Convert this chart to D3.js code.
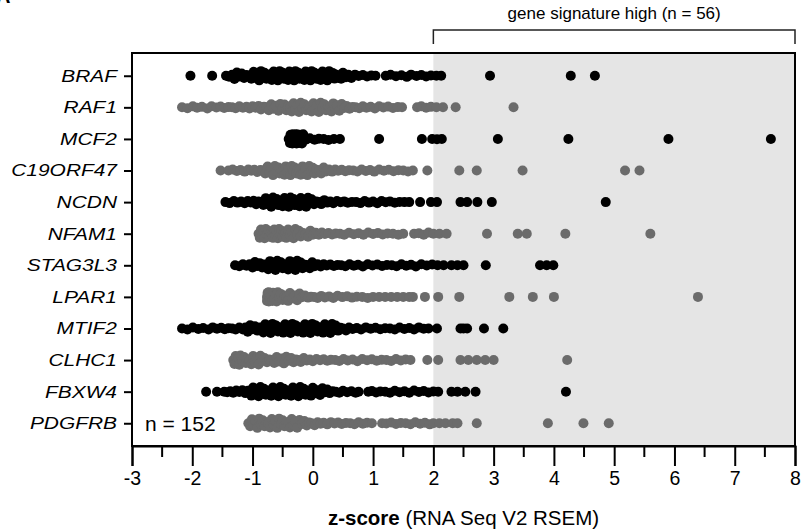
<!DOCTYPE html>
<html>
<head>
<meta charset="utf-8">
<script src="https://cdn.jsdelivr.net/npm/d3@7"></script>
<style>
  body { margin: 0; background: #fff; }
  text { font-family: "Liberation Sans", Arial, sans-serif; }
</style>
</head>
<body>
<div id="plot"></div>
<script>
// genes, top to bottom
var genes = ["BRAF", "RAF1", "MCF2", "C19ORF47", "NCDN", "NFAM1", "STAG3L3", "LPAR1", "MTIF2", "CLHC1", "FBXW4", "PDGFRB"];

// z-scores, one array per gene
var braf = [-2.03,-1.67,-1.44,-1.39,-1.34,-1.3,-1.26,-1.22,-1.18,-1.14,-1.1,-1.06,-1.02,-0.98,-0.95,-0.92,-0.89,-0.86,-0.83,-0.8,-0.77,-0.74,-0.71,-0.68,-0.65,-0.63,-0.6,-0.58,-0.55,-0.53,-0.5,-0.48,-0.46,-0.43,-0.41,-0.39,-0.36,-0.34,-0.31,-0.29,-0.27,-0.24,-0.22,-0.19,-0.17,-0.14,-0.12,-0.09,-0.07,-0.04,-0.02,0.01,0.03,0.06,0.08,0.11,0.13,0.16,0.19,0.21,0.24,0.27,0.3,0.33,0.36,0.39,0.43,0.47,0.5,0.55,0.59,0.64,0.7,0.76,0.83,0.9,0.97,1.04,1.21,1.29,1.38,1.47,1.56,1.63,1.72,1.8,1.88,1.96,2.05,2.13,2.94,4.28,4.68];
var raf1 = [-2.17,-2.08,-1.99,-1.92,-1.84,-1.75,-1.68,-1.6,-1.53,-1.47,-1.4,-1.34,-1.28,-1.22,-1.16,-1.1,-1.05,-1.0,-0.95,-0.9,-0.86,-0.81,-0.77,-0.73,-0.69,-0.65,-0.61,-0.57,-0.54,-0.5,-0.47,-0.44,-0.41,-0.38,-0.35,-0.32,-0.29,-0.26,-0.23,-0.2,-0.17,-0.14,-0.11,-0.08,-0.05,-0.02,0.01,0.04,0.07,0.1,0.13,0.16,0.19,0.22,0.25,0.28,0.31,0.34,0.37,0.4,0.44,0.48,0.52,0.56,0.61,0.66,0.71,0.77,0.83,0.89,0.96,1.03,1.1,1.17,1.25,1.33,1.41,1.48,1.73,1.8,1.88,1.96,2.05,2.16,2.37,3.33];
var mcf2 = [-0.4,-0.38,-0.37,-0.36,-0.35,-0.34,-0.33,-0.32,-0.31,-0.3,-0.3,-0.29,-0.29,-0.28,-0.28,-0.27,-0.27,-0.27,-0.26,-0.26,-0.25,-0.25,-0.24,-0.23,-0.22,-0.21,-0.2,-0.18,-0.16,-0.12,-0.05,0.03,0.1,0.18,0.26,0.35,0.45,1.1,1.81,1.98,2.06,2.14,3.07,4.24,5.9,7.6];
var c19orf47 = [-1.53,-1.4,-1.33,-1.26,-1.2,-1.13,-1.07,-1.02,-0.97,-0.92,-0.87,-0.83,-0.79,-0.75,-0.72,-0.69,-0.66,-0.63,-0.6,-0.57,-0.55,-0.52,-0.5,-0.47,-0.45,-0.42,-0.4,-0.37,-0.35,-0.32,-0.3,-0.27,-0.25,-0.22,-0.2,-0.17,-0.15,-0.12,-0.09,-0.06,-0.03,0.0,0.03,0.06,0.1,0.14,0.18,0.22,0.27,0.32,0.37,0.42,0.48,0.54,0.6,0.67,0.74,0.81,0.88,0.95,1.02,1.1,1.18,1.26,1.34,1.42,1.5,1.58,1.66,1.9,2.43,2.72,3.48,5.18,5.42];
var ncdn = [-1.45,-1.38,-1.31,-1.25,-1.19,-1.13,-1.08,-1.03,-0.98,-0.94,-0.9,-0.86,-0.82,-0.78,-0.75,-0.72,-0.69,-0.66,-0.63,-0.6,-0.57,-0.55,-0.52,-0.5,-0.47,-0.45,-0.42,-0.4,-0.37,-0.35,-0.32,-0.3,-0.27,-0.25,-0.22,-0.2,-0.17,-0.14,-0.11,-0.08,-0.05,-0.02,0.02,0.06,0.1,0.14,0.19,0.24,0.29,0.34,0.4,0.46,0.52,0.58,0.65,0.72,0.79,0.86,0.93,1.0,1.07,1.14,1.21,1.28,1.36,1.44,1.52,1.6,1.78,1.96,2.06,2.45,2.56,2.73,2.97,4.86];
var nfam1 = [-0.9,-0.88,-0.86,-0.84,-0.82,-0.8,-0.78,-0.76,-0.74,-0.72,-0.7,-0.68,-0.66,-0.64,-0.62,-0.6,-0.58,-0.56,-0.54,-0.52,-0.5,-0.48,-0.46,-0.44,-0.41,-0.38,-0.35,-0.32,-0.29,-0.26,-0.23,-0.2,-0.16,-0.12,-0.08,-0.04,0.0,0.05,0.1,0.15,0.2,0.26,0.32,0.38,0.45,0.52,0.6,0.68,0.76,0.84,0.92,1.0,1.08,1.16,1.24,1.33,1.42,1.5,1.68,1.76,1.84,1.92,2.0,2.1,2.22,2.89,3.4,3.55,4.19,5.6];
var stag3l3 = [-1.29,-1.22,-1.16,-1.1,-1.05,-1.0,-0.96,-0.92,-0.88,-0.84,-0.8,-0.77,-0.74,-0.71,-0.68,-0.65,-0.62,-0.59,-0.56,-0.53,-0.5,-0.47,-0.44,-0.41,-0.38,-0.35,-0.32,-0.29,-0.26,-0.23,-0.2,-0.17,-0.13,-0.09,-0.05,-0.01,0.03,0.08,0.13,0.18,0.23,0.29,0.35,0.41,0.47,0.54,0.61,0.68,0.75,0.83,0.91,0.99,1.07,1.15,1.23,1.31,1.39,1.47,1.55,1.63,1.71,1.8,1.89,1.98,2.07,2.17,2.3,2.4,2.5,2.87,3.77,3.88,3.99];
var lpar1 = [-0.76,-0.76,-0.75,-0.75,-0.74,-0.73,-0.73,-0.72,-0.71,-0.7,-0.69,-0.68,-0.67,-0.66,-0.64,-0.62,-0.6,-0.58,-0.56,-0.53,-0.5,-0.47,-0.44,-0.41,-0.38,-0.34,-0.3,-0.26,-0.22,-0.18,-0.13,-0.08,-0.03,0.02,0.08,0.14,0.2,0.27,0.34,0.41,0.49,0.57,0.65,0.73,0.82,0.91,1.0,1.1,1.2,1.3,1.4,1.5,1.6,1.66,1.86,2.08,2.43,3.26,3.65,4.0,6.39];
var mtif2 = [-2.17,-2.08,-1.99,-1.9,-1.82,-1.73,-1.66,-1.59,-1.52,-1.46,-1.4,-1.34,-1.28,-1.22,-1.16,-1.12,-1.08,-1.04,-1.0,-0.96,-0.92,-0.88,-0.85,-0.82,-0.79,-0.76,-0.73,-0.7,-0.67,-0.64,-0.61,-0.58,-0.55,-0.52,-0.49,-0.46,-0.43,-0.4,-0.37,-0.34,-0.31,-0.28,-0.25,-0.22,-0.19,-0.16,-0.13,-0.1,-0.07,-0.04,-0.01,0.02,0.05,0.08,0.11,0.14,0.17,0.2,0.23,0.26,0.29,0.32,0.35,0.38,0.42,0.46,0.5,0.55,0.6,0.66,0.73,0.8,0.88,0.96,1.04,1.12,1.2,1.28,1.36,1.44,1.52,1.6,1.68,1.76,1.84,1.92,2.06,2.45,2.5,2.56,2.84,3.16];
var clhc1 = [-1.32,-1.3,-1.28,-1.26,-1.24,-1.22,-1.2,-1.17,-1.14,-1.11,-1.08,-1.05,-1.02,-0.99,-0.96,-0.93,-0.9,-0.87,-0.84,-0.8,-0.76,-0.72,-0.68,-0.64,-0.6,-0.56,-0.52,-0.48,-0.44,-0.4,-0.36,-0.32,-0.28,-0.24,-0.2,-0.15,-0.1,-0.05,0.0,0.06,0.12,0.18,0.24,0.3,0.37,0.44,0.51,0.58,0.66,0.74,0.82,0.9,0.98,1.06,1.14,1.22,1.3,1.38,1.46,1.54,1.62,1.9,2.08,2.45,2.58,2.72,2.86,3.0,4.22];
var fbxw4 = [-1.77,-1.59,-1.47,-1.42,-1.37,-1.32,-1.27,-1.22,-1.17,-1.12,-1.08,-1.05,-1.02,-0.99,-0.96,-0.93,-0.9,-0.87,-0.84,-0.81,-0.78,-0.75,-0.72,-0.69,-0.66,-0.63,-0.6,-0.57,-0.54,-0.51,-0.48,-0.45,-0.42,-0.39,-0.36,-0.33,-0.3,-0.27,-0.24,-0.21,-0.18,-0.15,-0.12,-0.09,-0.06,-0.03,0.0,0.04,0.08,0.12,0.16,0.2,0.24,0.28,0.33,0.38,0.44,0.5,0.57,0.64,0.71,0.76,0.92,0.98,1.05,1.12,1.2,1.28,1.36,1.44,1.52,1.6,1.68,1.76,1.84,1.92,2.0,2.08,2.3,2.4,2.53,2.7,4.2];
var pdgfrb = [-1.07,-1.04,-1.01,-0.98,-0.95,-0.92,-0.89,-0.86,-0.83,-0.8,-0.77,-0.74,-0.71,-0.68,-0.65,-0.62,-0.59,-0.56,-0.53,-0.5,-0.47,-0.44,-0.41,-0.38,-0.35,-0.32,-0.29,-0.26,-0.22,-0.18,-0.14,-0.1,-0.06,-0.02,0.03,0.08,0.13,0.18,0.24,0.3,0.36,0.42,0.48,0.55,0.62,0.69,0.76,0.83,0.9,0.98,1.15,1.22,1.3,1.38,1.46,1.54,1.62,1.7,1.78,1.86,1.94,2.0,2.1,2.2,2.32,2.4,2.72,3.9,4.49,4.91];

var geneValues = [braf, raf1, mcf2, c19orf47, ncdn, nfam1, stag3l3, lpar1, mtif2, clhc1, fbxw4, pdgfrb];
var xTicks = [-3, -2, -1, 0, 1, 2, 3, 4, 5, 6, 7, 8];
var highCut = 2;

// workspace
var svgWidth = 801, svgHeight = 531;
var margin = { top: 53, right: 6, bottom: 85, left: 132 };
var width = svgWidth - margin.left - margin.right;
var height = svgHeight - margin.top - margin.bottom;

var svg = d3.select("#plot").append("svg")
    .attr("width", svgWidth)
    .attr("height", svgHeight);

var chartGroup = svg.append("g")
    .attr("transform", `translate(${margin.left}, ${margin.top})`);

// scales
var xScale = d3.scaleLinear().domain([-3, 8]).range([0, width]);
var yScale = d3.scalePoint().domain(genes).range([0, height]).padding(0.72);

// grey "high" region
chartGroup.append("rect")
    .attr("x", xScale(highCut))
    .attr("y", 0)
    .attr("width", xScale(8) - xScale(highCut))
    .attr("height", height)
    .attr("fill", "#e5e5e5");

// spread crowded points up/down, the more crowded the wider (max ~4.5px)
var jitterCycle = [0, 0.9, -0.9, 0.45, -0.45, 1, -1, 0.2, -0.65, 0.65, -0.2];
function swarm(values, cy) {
    var xs = values.slice().sort((a, b) => a - b).map(v => xScale(v));
    return xs.map((x, i) => {
        var count = xs.filter(o => Math.abs(o - x) <= 6).length;
        var spread = Math.max(0, Math.min(4.6, (count - 2) * 1.1));
        return { x: x, y: cy + spread * jitterCycle[i % jitterCycle.length] };
    });
}

genes.forEach((g, i) => {
    var pts = swarm(geneValues[i], yScale(g));
    chartGroup.append("g").selectAll("circle")
        .data(pts)
        .enter()
        .append("circle")
        .attr("cx", d => d.x)
        .attr("cy", d => d.y)
        .attr("r", 5)
        .attr("fill", i % 2 === 0 ? "#000000" : "#6b6b6b");
});

// frame
chartGroup.append("rect")
    .attr("x", 0).attr("y", 0)
    .attr("width", width).attr("height", height)
    .attr("fill", "none")
    .attr("stroke", "#000")
    .attr("stroke-width", 2);

// axes
var bottomAxis = d3.axisBottom(xScale).tickValues(xTicks).tickSize(20).tickPadding(5).tickFormat(d3.format("d"));
var xAxisG = chartGroup.append("g")
    .attr("transform", `translate(0, ${height})`)
    .call(bottomAxis);
xAxisG.select(".domain").attr("stroke-width", 2);
xAxisG.selectAll(".tick line").attr("stroke-width", 2);
xAxisG.selectAll(".tick text")
    .attr("font-size", "19.5px")
    .attr("fill", "#000")
    .text(d => d < 0 ? "-" + Math.abs(d) : d);

// minor ticks between labels
var minorTicks = xTicks.slice(0, -1).map(t => t + 0.5);
chartGroup.append("g").selectAll("line")
    .data(minorTicks)
    .enter()
    .append("line")
    .attr("x1", d => xScale(d)).attr("x2", d => xScale(d))
    .attr("y1", height).attr("y2", height + 11)
    .attr("stroke", "#000")
    .attr("stroke-width", 2);

var leftAxis = d3.axisLeft(yScale).tickSize(8).tickPadding(0);
var yAxisG = chartGroup.append("g").call(leftAxis);
yAxisG.select(".domain").remove();
yAxisG.selectAll(".tick line").attr("stroke-width", 2);
// labels are drawn wide in the original
yAxisG.selectAll(".tick text")
    .attr("x", 0)
    .attr("transform", "translate(-15,0) scale(1.23,1)")
    .attr("font-size", "17px")
    .attr("font-style", "italic")
    .attr("fill", "#000");

// n label
chartGroup.append("text")
    .attr("x", 13)
    .attr("y", yScale("PDGFRB") + 8)
    .attr("font-size", "21px")
    .text("n = 152");

// bracket over the high group
var bx1 = margin.left + xScale(highCut), bx2 = margin.left + xScale(8);
svg.append("path")
    .attr("d", `M${bx1},44 V30 H${bx2} V44`)
    .attr("fill", "none")
    .attr("stroke", "#222")
    .attr("stroke-width", 1.5);
svg.append("text")
    .attr("x", (bx1 + bx2) / 2)
    .attr("y", 19)
    .attr("text-anchor", "middle")
    .attr("font-size", "17px")
    .text("gene signature high (n = 56)");

// x axis title
var xTitle = svg.append("text")
    .attr("x", margin.left + width / 2)
    .attr("y", 525)
    .attr("text-anchor", "middle")
    .attr("font-size", "20.5px");
xTitle.append("tspan").attr("font-weight", "bold").text("z-score");
xTitle.append("tspan").text(" (RNA Seq V2 RSEM)");

// panel letter cut at the top edge
svg.append("text")
    .attr("x", -4)
    .attr("y", 3)
    .attr("font-size", "20px")
    .attr("font-weight", "bold")
    .text("A");
</script>
</body>
</html>
